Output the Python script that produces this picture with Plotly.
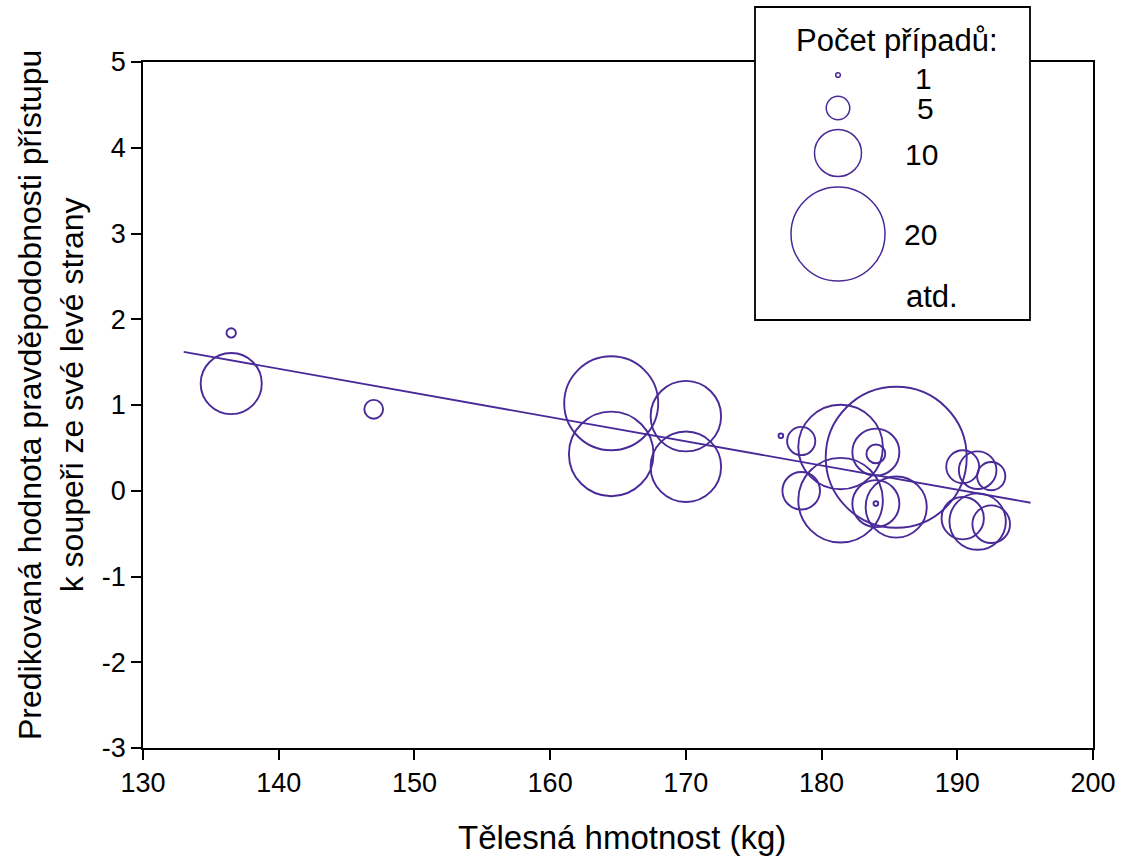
import plotly.graph_objects as go

# ---------------- data ----------------
weight_kg = [136.5, 136.5, 147.0, 164.5, 164.5, 170.0, 170.0, 177.0, 178.5, 178.5,
             181.4, 181.4, 184.0, 184.0, 184.0, 184.0, 185.5, 185.5,
             190.4, 190.4, 191.5, 191.5, 192.5, 192.5]
predicted = [1.84, 1.25, 0.95, 1.02, 0.43, 0.87, 0.28, 0.64, 0.58, 0.00,
             0.51, -0.11, 0.45, 0.43, -0.15, -0.15, 0.39, -0.19,
             0.28, -0.32, 0.24, -0.36, 0.17, -0.39]
case_count = [2, 13, 4, 20, 18, 15, 15, 1, 6, 8,
              18, 18, 10, 4, 1, 10, 30, 13,
              7, 9, 8, 12, 6, 8]

fit_x = [133.0, 195.4]
fit_y = [1.62, -0.14]

legend_counts = [1, 5, 10, 20]
legend_labels = ["1", "5", "10", "20"]
legend_title = "Počet případů:"
legend_more = "atd."

x_ticks = [130, 140, 150, 160, 170, 180, 190, 200]
x_tick_text = ["130", "140", "150", "160", "170", "180", "190", "200"]
y_ticks = [-3, -2, -1, 0, 1, 2, 3, 4, 5]
y_tick_text = ["-3", "-2", "-1", "0", "1", "2", "3", "4", "5"]
x_title = "Tělesná hmotnost (kg)"
y_title = "Predikovaná hodnota pravděpodobnosti přístupu<br>k soupeři ze své levé strany"

# ---------------- style ----------------
PURPLE = "#4A2A98"
FONT = "Liberation Sans, Arial, sans-serif"
PX_PER_CASE = 4.7          # marker diameter (px) per case
W, H = 1130, 866
ML, MR, MT, MB = 143, 37, 62, 118
PW, PH = W - ML - MR, H - MT - MB


def px(xp):
    return (xp - ML) / PW


def py(yp):
    return (H - MB - yp) / PH


fig = go.Figure()

fig.add_trace(go.Scatter(
    x=fit_x, y=fit_y, mode="lines",
    line=dict(color=PURPLE, width=1.8),
    hoverinfo="skip", showlegend=False,
))

fig.add_trace(go.Scatter(
    x=weight_kg, y=predicted, mode="markers",
    marker=dict(
        size=case_count, sizemode="diameter", sizeref=1 / PX_PER_CASE,
        color="rgba(0,0,0,0)", opacity=1,
        line=dict(color=PURPLE, width=1.9),
    ),
    cliponaxis=False, showlegend=False,
))

shapes = [dict(
    type="rect", xref="paper", yref="paper",
    x0=px(755), x1=px(1030), y0=py(320), y1=py(7),
    fillcolor="white", line=dict(color="black", width=1.8), layer="above",
)]

legend_cy = [75, 108, 153, 234]
legend_label_y = [79, 109, 154, 235]
legend_label_x = [923, 925, 921, 920]
annotations = []
for c, cy, lab, lx, ly in zip(legend_counts, legend_cy, legend_labels,
                              legend_label_x, legend_label_y):
    d = c * PX_PER_CASE
    shapes.append(dict(
        type="circle", xref="paper", yref="paper",
        xsizemode="pixel", ysizemode="pixel",
        xanchor=px(838), yanchor=py(cy),
        x0=-d / 2, x1=d / 2, y0=-d / 2, y1=d / 2,
        line=dict(color=PURPLE, width=1.5), fillcolor="rgba(0,0,0,0)", layer="above",
    ))
    annotations.append(dict(
        text=lab, xref="paper", yref="paper", x=px(lx), y=py(ly),
        xanchor="center", yanchor="middle", showarrow=False,
        font=dict(family=FONT, size=30, color="black"),
    ))

annotations.append(dict(
    text=legend_title, xref="paper", yref="paper", x=px(897), y=py(40),
    xanchor="center", yanchor="middle", showarrow=False,
    font=dict(family=FONT, size=31, color="black"),
))
annotations.append(dict(
    text=legend_more, xref="paper", yref="paper", x=px(932), y=py(296),
    xanchor="center", yanchor="middle", showarrow=False,
    font=dict(family=FONT, size=31, color="black"),
))
annotations.append(dict(
    text=x_title, xref="paper", yref="paper", x=px(622), y=py(837),
    xanchor="center", yanchor="middle", showarrow=False,
    font=dict(family=FONT, size=33, color="black"),
))
annotations.append(dict(
    text=y_title, xref="paper", yref="paper", x=px(51), y=py(395),
    xanchor="center", yanchor="middle", showarrow=False, textangle=-90,
    font=dict(family=FONT, size=32, color="black"),
))

axis_common = dict(
    showline=True, linecolor="black", linewidth=1.8, mirror=True,
    ticks="outside", ticklen=10, tickwidth=1.8, tickcolor="black",
    showgrid=False, zeroline=False,
    tickfont=dict(family=FONT, size=27, color="black"),
)

fig.update_layout(
    width=W, height=H,
    margin=dict(l=ML, r=MR, t=MT, b=MB),
    paper_bgcolor="white", plot_bgcolor="white",
    xaxis=dict(range=[130, 200], tickvals=x_ticks, ticktext=x_tick_text, **axis_common),
    yaxis=dict(range=[-3, 5], tickvals=y_ticks, ticktext=y_tick_text, **axis_common),
    shapes=shapes, annotations=annotations,
    showlegend=False,
)

fig.write_html("out.html")
